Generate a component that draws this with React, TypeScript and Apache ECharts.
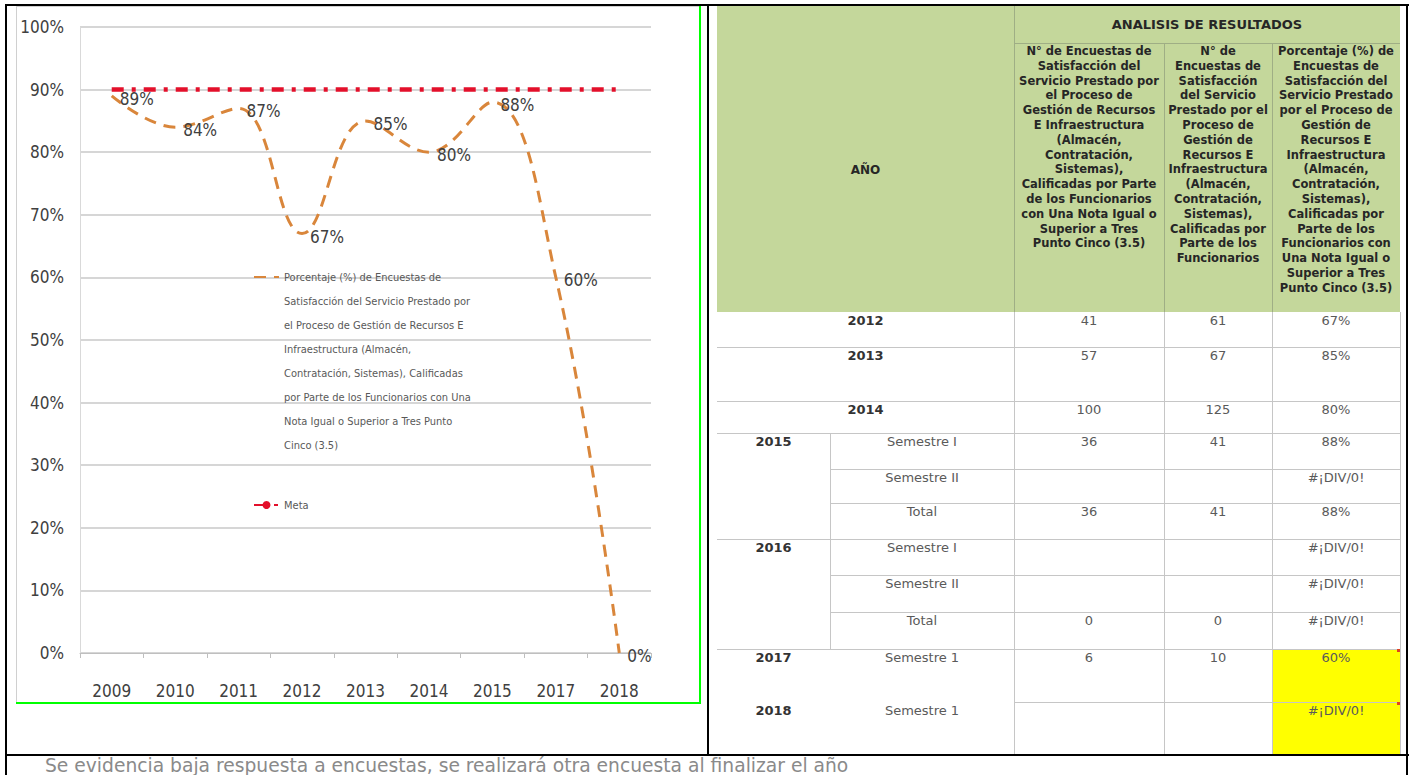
import React, { useEffect, useRef } from "react";
import * as echarts from "echarts";

// ---------- chart data ----------
const years = ["2009", "2010", "2011", "2012", "2013", "2014", "2015", "2017", "2018"];
const porcentaje = [89, 84, 87, 67, 85, 80, 88, 60, 0];
const meta = [90, 90, 90, 90, 90, 90, 90, 90, 90];
const seriesNameLines = [
  "Porcentaje (%) de Encuestas de",
  "Satisfacción del Servicio Prestado por",
  "el Proceso de Gestión de Recursos E",
  "Infraestructura (Almacén,",
  "Contratación, Sistemas), Calificadas",
  "por Parte de los Funcionarios con Una",
  "Nota Igual o Superior a Tres Punto",
  "Cinco (3.5)",
];
const seriesName = seriesNameLines.join(" ");
const metaName = "Meta";

// ---------- table data ----------
const tableTitle = "ANALISIS DE RESULTADOS";
const yearHeader = "AÑO";
const col1Header = [
  "N° de Encuestas de",
  "Satisfacción del",
  "Servicio Prestado por",
  "el Proceso de",
  "Gestión de Recursos",
  "E Infraestructura",
  "(Almacén,",
  "Contratación,",
  "Sistemas),",
  "Calificadas por Parte",
  "de los Funcionarios",
  "con Una Nota Igual o",
  "Superior a Tres",
  "Punto Cinco (3.5)",
];
const col2Header = [
  "N° de",
  "Encuestas de",
  "Satisfacción",
  "del Servicio",
  "Prestado por el",
  "Proceso de",
  "Gestión de",
  "Recursos E",
  "Infraestructura",
  "(Almacén,",
  "Contratación,",
  "Sistemas),",
  "Calificadas por",
  "Parte de los",
  "Funcionarios",
];
const col3Header = [
  "Porcentaje (%) de",
  "Encuestas de",
  "Satisfacción del",
  "Servicio Prestado",
  "por el Proceso de",
  "Gestión de",
  "Recursos E",
  "Infraestructura",
  "(Almacén,",
  "Contratación,",
  "Sistemas),",
  "Calificadas por",
  "Parte de los",
  "Funcionarios con",
  "Una Nota Igual o",
  "Superior a Tres",
  "Punto Cinco (3.5)",
];
const rowYears = ["2012", "2013", "2014", "2015", "", "", "2016", "", "", "2017", "2018"];
const rowPeriods = ["", "", "", "Semestre I", "Semestre II", "Total", "Semestre I", "Semestre II", "Total", "Semestre 1", "Semestre 1"];
const rowCount1 = ["41", "57", "100", "36", "", "36", "", "", "0", "6", ""];
const rowCount2 = ["61", "67", "125", "41", "", "41", "", "", "0", "10", ""];
const rowPct = ["67%", "85%", "80%", "88%", "#¡DIV/0!", "88%", "#¡DIV/0!", "#¡DIV/0!", "#¡DIV/0!", "60%", "#¡DIV/0!"];
const footnote = "Se evidencia baja respuesta a encuestas, se realizará otra encuesta al finalizar el año";

// ---------- layout (positions / styles) ----------
const NARROW = "'Liberation Sans Narrow', 'DejaVu Sans Condensed', 'Roboto Condensed', 'Open Sans', sans-serif";
const TFONT = "'DejaVu Sans', Verdana, sans-serif";
const COLS = [717, 830, 1014, 1164, 1272, 1400];
const ROW_Y = [312, 347, 401, 433, 469, 503, 539, 575, 612, 649, 702, 754];
// left column index where each inner row boundary line starts (boundaries 1..10)
const H_LINE_START = [0, 0, 0, 1, 1, 0, 1, 1, 0, 2];
const HIGHLIGHT_ROWS = [9, 10];
const GRID_LINE = "#c6c6c6";
const HEADER_LINE = "#9fae85";
// blank lines put in front of the wrapped legend text so that its first line sits beside the icon
const LEGEND_PAD_LINES = seriesNameLines.length - 1;

const option: any = {
  animation: false,
  grid: { left: 63, right: 49, top: 20, bottom: 50, containLabel: false, outerBoundsMode: "none" },
  xAxis: {
    type: "category",
    data: years,
    boundaryGap: true,
    axisLine: { show: true, lineStyle: { color: "#bfbfbf", width: 1 } },
    axisTick: { show: true, length: 5, lineStyle: { color: "#bfbfbf" } },
    axisLabel: { fontFamily: NARROW, fontSize: 17, color: "#404040", margin: 29 },
  },
  yAxis: {
    type: "value",
    min: 0,
    max: 100,
    interval: 10,
    axisLine: { show: true, lineStyle: { color: "#d9d9d9" } },
    axisTick: { show: false },
    axisLabel: { formatter: "{value}%", fontFamily: NARROW, fontSize: 17, color: "#404040", margin: 16 },
    splitLine: { lineStyle: { color: "#c8c8c8", width: 1.5 } },
  },
  legend: [
    {
      data: [seriesName],
      left: 236,
      top: 90,
      orient: "vertical",
      padding: 0,
      itemWidth: 25,
      itemHeight: 10,
      selectedMode: false,
      formatter: () => "\n".repeat(LEGEND_PAD_LINES) + seriesNameLines.join("\n"),
      textStyle: { fontFamily: NARROW, fontSize: 11, color: "#595959", lineHeight: 24 },
    },
    {
      data: [metaName],
      left: 236,
      top: 486,
      orient: "vertical",
      padding: 0,
      itemWidth: 25,
      itemHeight: 10,
      selectedMode: false,
      textStyle: { fontFamily: NARROW, fontSize: 11, color: "#595959", lineHeight: 24 },
    },
  ],
  series: [
    {
      name: metaName,
      type: "line",
      data: meta,
      symbol: "none",
      lineStyle: { color: "#E3102B", width: 4.5, type: [12, 8, 4, 8], cap: "butt" },
      itemStyle: { color: "#E3102B" },
      z: 2,
    },
    {
      name: seriesName,
      type: "line",
      data: porcentaje,
      smooth: 0.4,
      symbol: "circle",
      symbolSize: 2,
      showSymbol: true,
      lineStyle: { color: "#D9863B", width: 3, type: [12, 8] },
      itemStyle: { color: "rgba(0,0,0,0)", borderWidth: 0 },
      label: {
        show: true,
        position: "right",
        distance: 7,
        offset: [0, 3],
        formatter: "{c}%",
        fontFamily: NARROW,
        fontSize: 17,
        color: "#404040",
      },
      z: 3,
    },
  ],
};

const abs = (l: number, t: number, w: number, h: number, extra: any = {}) => ({
  position: "absolute" as const,
  left: l,
  top: t,
  width: w,
  height: h,
  ...extra,
});

function Table() {
  const els: any[] = [];
  const [c0, c1, c2, c3, c4, c5] = COLS;
  els.push(<div key="hbg" style={abs(c0, 6, c5 - c0, ROW_Y[0] - 6, { background: "#C4D79B" })} />);
  HIGHLIGHT_ROWS.forEach((r) =>
    els.push(<div key={"hl" + r} style={abs(c4, ROW_Y[r], c5 - c4, ROW_Y[r + 1] - ROW_Y[r], { background: "#FFFF00" })} />)
  );
  els.push(<div key="hv2" style={abs(c2, 6, 1, ROW_Y[0] - 6, { background: HEADER_LINE })} />);
  els.push(<div key="hv3" style={abs(c3, 43, 1, ROW_Y[0] - 43, { background: HEADER_LINE })} />);
  els.push(<div key="hv4" style={abs(c4, 43, 1, ROW_Y[0] - 43, { background: HEADER_LINE })} />);
  els.push(<div key="hh" style={abs(c2, 43, c5 - c2, 1, { background: HEADER_LINE })} />);
  els.push(
    <div key="title" style={abs(c2, 16, c5 - c2, 18, { textAlign: "center", font: `bold 13px ${TFONT}`, lineHeight: "18px", color: "#262626" })}>
      {tableTitle}
    </div>
  );
  els.push(
    <div key="ano" style={abs(c0, 161, c2 - c0, 18, { textAlign: "center", font: `bold 12px ${TFONT}`, lineHeight: "18px", color: "#262626" })}>
      {yearHeader}
    </div>
  );
  [col1Header, col2Header, col3Header].forEach((lines, i) =>
    els.push(
      <div
        key={"hc" + i}
        style={abs(COLS[2 + i], 44, COLS[3 + i] - COLS[2 + i], 260, {
          textAlign: "center",
          font: `bold 11.5px ${TFONT}`,
          lineHeight: "14.8px",
          color: "#262626",
          whiteSpace: "nowrap",
        })}
      >
        {lines.map((l, k) => (
          <div key={k}>{l}</div>
        ))}
      </div>
    )
  );
  for (let b = 1; b <= 10; b++) {
    const x0 = COLS[H_LINE_START[b - 1]];
    els.push(<div key={"h" + b} style={abs(x0, ROW_Y[b], c5 - x0, 1, { background: GRID_LINE })} />);
  }
  els.push(<div key="v1" style={abs(c1, ROW_Y[3], 1, ROW_Y[9] - ROW_Y[3], { background: GRID_LINE })} />);
  [c2, c3, c4, c5].forEach((x, i) =>
    els.push(<div key={"v" + (i + 2)} style={abs(x, ROW_Y[0], 1, ROW_Y[11] - ROW_Y[0], { background: GRID_LINE })} />)
  );
  els.push(<div key="m1" style={abs(c5 - 3, ROW_Y[9], 3, 3, { background: "#e04020" })} />);
  els.push(<div key="m2" style={abs(c5 - 3, ROW_Y[10], 3, 3, { background: "#e04020" })} />);
  const txt = (key: string, l: number, r: number, top: number, s: string, bold = false) =>
    s ? (
      <div
        key={key}
        style={abs(l, top, r - l, 16, {
          textAlign: "center",
          font: `${bold ? "bold " : ""}13px ${TFONT}`,
          lineHeight: "16px",
          color: bold ? "#333333" : "#5a5a5a",
          whiteSpace: "nowrap",
        })}
      >
        {s}
      </div>
    ) : null;
  rowYears.forEach((y, r) => {
    const top = ROW_Y[r] + 1;
    if (r < 3) els.push(txt("y" + r, c0, c2, top, y, true));
    else {
      els.push(txt("y" + r, c0, c1, top, y, true));
      els.push(txt("p" + r, c1, c2, top, rowPeriods[r]));
    }
    els.push(txt("a" + r, c2, c3, top, rowCount1[r]));
    els.push(txt("b" + r, c3, c4, top, rowCount2[r]));
    els.push(txt("c" + r, c4, c5, top, rowPct[r]));
  });
  return <>{els}</>;
}

export default function App() {
  const ref = useRef<HTMLDivElement>(null);
  useEffect(() => {
    const chart = echarts.init(ref.current as HTMLDivElement, undefined, { renderer: "svg" });
    chart.setOption(option);
    return () => chart.dispose();
  }, []);
  return (
    <div style={abs(0, 0, 1414, 775, { background: "#ffffff", overflow: "hidden" })}>
      <div style={abs(16, 6, 1, 697, { background: "#d0d0d0" })} />
      <div style={abs(16, 6, 684, 1, { background: "#d0d0d0" })} />
      <div ref={ref} style={abs(17, 7, 683, 696)} />
      <div style={abs(699, 6, 2, 698, { background: "#00ff00" })} />
      <div style={abs(16, 702, 685, 2, { background: "#00ff00" })} />
      <Table />
      <div style={abs(5, 4, 1404, 2, { background: "#000" })} />
      <div style={abs(5, 4, 2, 771, { background: "#000" })} />
      <div style={abs(707, 4, 2, 752, { background: "#000" })} />
      <div style={abs(1406, 4, 2, 771, { background: "#000" })} />
      <div style={abs(5, 754, 1404, 2, { background: "#000" })} />
      <div
        style={abs(45, 756, 1300, 19, {
          font: `18.7px ${TFONT}`,
          lineHeight: "19px",
          color: "#8a8a8a",
          whiteSpace: "nowrap",
        })}
      >
        {footnote}
      </div>
    </div>
  );
}
